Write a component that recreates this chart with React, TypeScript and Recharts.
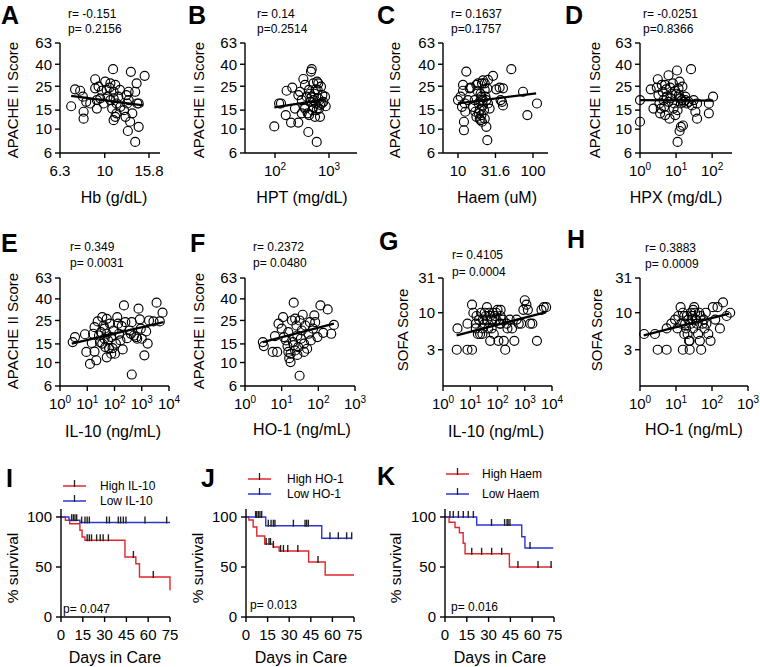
import React from 'react'
import { ScatterChart, Scatter, ComposedChart, Line, XAxis, YAxis } from 'recharts'

const FONT = '"Liberation Sans", Arial, Helvetica, sans-serif'
const RED = '#e4262b'
const BLUE = '#2b36d2'

// ---- tick values ----
const apacheTicks = [6, 10, 15, 25, 40, 63]
const sofaTicks = [3, 10, 31]
const hbTicks = [6.3, 10, 15.8]
const hptTicks = [100, 1000]
const haemTicks = [10, 31.6, 100]
const dec2 = [1, 10, 100]
const dec3 = [1, 10, 100, 1000]
const dec4 = [1, 10, 100, 1000, 10000]
const dayTicks = [0, 15, 30, 45, 60, 75]
const survTicks = [0, 50, 100]

// ---- A: Hb vs APACHE II ----
const hbPts = [
  [7.07, 16.3], [7.36, 23.4], [7.76, 22.7], [7.98, 20], [8.04, 14.5], [8.04, 12.5], [8.26, 17.9], [8.61, 17.3],
  [9.06, 29], [9.06, 23.9], [9.22, 18.6], [9.22, 15.5], [9.38, 24.8], [9.55, 19.3], [9.71, 22.7], [9.88, 17.3],
  [10.05, 27.6], [10.2, 23.1], [10.3, 20], [10.5, 24.3], [10.6, 18.6], [10.6, 26.6], [10.8, 15.5], [10.9, 36],
  [10.96, 22.2], [10.96, 19.3], [11.15, 25.7], [11.3, 17.3], [11.3, 14], [11.5, 20], [11.7, 23.1], [11.15, 13],
  [11.75, 16.1], [10.96, 12.1], [12.2, 15], [12.4, 13], [12.8, 18.6], [12.8, 22.2], [12.5, 20.7], [13.3, 14],
  [12.6, 17.3], [13.1, 34], [13.7, 22.2], [13.9, 26.6], [13.0, 11.7], [12.7, 9.6], [13.7, 7.6], [14.0, 17.3],
  [14.2, 17.3], [14.2, 10.5], [15.1, 31.2],
]
const hbFit = [[7.07, 20.3], [14.9, 16.6]]

// ---- B: HPT vs APACHE II ----
const hptPts = [
  [97, 10.6], [119, 17.3], [129, 17.3], [158, 13.5], [164, 22.7], [198, 11.5], [209, 24.3], [234, 15.5],
  [270, 11.5], [290, 22.2], [312, 18.6], [335, 29.2], [349, 16.1], [359, 25.7], [386, 20], [403, 14],
  [414, 9.4], [426, 23.1], [445, 17.9], [464, 34.2], [478, 36], [491, 15], [513, 26.6], [535, 21.3],
  [550, 13], [566, 17.3], [592, 7.6], [600, 27.6], [617, 23.1], [634, 19.3], [653, 15.5], [681, 13],
  [711, 24.8], [731, 17.3], [753, 20.7], [785, 17.9], [843, 20], [868, 16.3], [312, 14], [359, 15.5],
  [270, 20.7], [445, 21.3], [513, 18.6], [566, 23.4], [478, 20], [592, 15], [634, 26.6], [681, 16.8],
  [513, 16.1], [426, 13.5],
]
const hptFit = [[97, 15.9], [868, 18.9]]

// ---- C: Haem vs APACHE II ----
const haemPts = [
  [10, 18.6], [10.85, 20], [11.3, 16.1], [11.66, 25.7], [11.66, 22.7], [12, 11.7], [12, 9.75], [12.3, 17.3],
  [12.5, 14.5], [12.9, 34.2], [13.6, 18.6], [14.3, 23.9], [14.8, 24.3], [15.9, 16.1], [16.7, 18.6], [17, 14.5],
  [17.6, 25.7], [17.6, 13], [18.1, 22.7], [18.5, 26.6], [18.9, 17.3], [19.5, 15], [19.5, 12.5], [20, 18.6],
  [20, 21.3], [20.5, 13.5], [20.9, 26.6], [21.5, 28.3], [21.5, 18.6], [22.2, 15], [22.7, 26.6], [22.7, 23.1],
  [23.2, 20], [23.9, 10.5], [24.6, 7.9], [24.6, 23.9], [25.1, 28.6], [25.1, 17.3], [26.4, 15.5], [29.3, 31.2],
  [32.4, 23.4], [35.9, 24.3], [37, 18.6], [38.6, 17.9], [39.8, 16.6], [39.8, 23.9], [51.4, 36], [73.6, 22.2],
  [84.1, 13.5], [113, 17.3], [20.5, 20], [21.5, 16.6], [23.9, 18.6], [18.9, 14], [20, 12.1], [22.7, 12.5],
  [20.9, 11.7],
]
const haemFit = [[10, 17.3], [110, 21.5]]

// ---- D: HPX vs APACHE II ----
const hpxPts = [
  [1.0, 18.6], [1.0, 11.7], [1.98, 23.4], [2.36, 15.5], [2.92, 24.3], [3.11, 29], [3.25, 20.7], [3.46, 17.3],
  [3.61, 14], [3.77, 15.5], [4.02, 25.7], [4.29, 22.2], [4.48, 18.6], [4.67, 16.1], [4.98, 13.5], [5.31, 23.4],
  [5.54, 20], [6.17, 31.6], [6.17, 17.9], [6.58, 12.5], [6.87, 24.3], [7.65, 21.3], [8.15, 26.6], [8.5, 15.5],
  [8.88, 17.3], [9.5, 13.5], [10.1, 21.3], [10.6, 35], [11.0, 15], [11.7, 23.9], [12.5, 27.6], [13.1, 19.3],
  [13.6, 17.3], [13.6, 10.5], [12.5, 9.6], [11.0, 7.6], [14.5, 18.6], [15.5, 10.8], [16.2, 17.9], [18.0, 20],
  [22.3, 17.9], [26, 36], [27.6, 16.6], [30.8, 18.6], [34.3, 14.5], [38.2, 12.5], [38.2, 17.3], [81, 14],
  [81, 17.3], [106, 20], [5, 25.7], [7, 19.3], [9.5, 22.7], [12, 20.7], [15, 24.8], [18, 18.6], [20, 17.3],
]
const hpxFit = [[1, 18.6], [106, 18.4]]

// ---- E: IL-10 vs APACHE II ----
const il10ApPts = [
  [2.93, 15.6], [3.55, 17.4], [8.26, 18.5], [9.26, 12.6], [12.6, 9.7], [14.7, 15.3], [18.5, 12.7], [21.5, 10.5],
  [18.5, 21.6], [24.2, 24.5], [27, 18], [29.3, 15.6], [31.6, 19.4], [35.5, 26.9], [39.8, 22.4], [43, 16.8],
  [46.4, 14], [52, 25.9], [52, 18.7], [58, 16.2], [63, 13.7], [68, 23.3], [76, 17.4], [85, 13.7],
  [92, 20.1], [104, 12.1], [112, 15.1], [126, 26.9], [135, 23.3], [146, 18.7], [165, 16.2], [184, 22.1],
  [200, 13.3], [222, 34.7], [250, 24.1], [290, 17], [355, 20.1], [400, 18.7], [430, 24.1], [520, 18],
  [630, 17.4], [680, 16.8], [760, 32.3], [850, 25.6], [920, 20.9], [1000, 16.8], [1250, 11.7], [1650, 15.1],
  [1450, 19.7], [1850, 25], [430, 7.7], [3500, 36.8], [4600, 24.5], [5800, 29.6], [2700, 24.5], [43, 20.9],
  [16.4, 18.7], [35.5, 15.1], [76, 12.1], [52, 11.2],
]
const il10ApFit = [[2.7, 15.1], [6300, 24.1]]

// ---- F: HO-1 vs APACHE II ----
const ho1ApPts = [
  [3.07, 15.6], [3.25, 14.3], [5.7, 12.6], [7.55, 12.6], [6.56, 17.8], [8.2, 23.3], [10, 20.9], [10.9, 26.9],
  [11.5, 17.4], [13.2, 16.2], [14.4, 14.3], [15.2, 19.4], [16.1, 11], [17.5, 12.1], [17.5, 10.1], [19.1, 25],
  [20.2, 15.6], [21.3, 36.8], [23.3, 13], [25.3, 22.4], [26.8, 18], [28.3, 14], [30.8, 25], [33.5, 16.8],
  [35.4, 20.1], [37.5, 28.3], [40.8, 15.1], [44.2, 22.4], [49.5, 13.5], [53.9, 18.7], [58.8, 24.1], [62.3, 16.2],
  [71.5, 20.9], [77.8, 27.9], [82.1, 24.1], [30.8, 7.5], [94.5, 17.4], [114, 34.7], [136, 19.1], [180, 31.8],
  [225, 18.7], [266, 22.7], [23.3, 26], [15.2, 12.6], [40.8, 12.6], [26.8, 11.8], [21.3, 14.6],
]
const ho1ApFit = [[3.07, 15.6], [266, 23.3]]

// ---- G: IL-10 vs SOFA ----
const il10SofaPts = [
  [3.2, 3], [7.9, 3], [11.6, 3], [3.4, 6], [7.9, 7], [16, 7], [19, 5], [23, 5], [28, 5], [11.6, 13],
  [13, 10], [17, 9], [21, 8], [25, 10], [29, 8], [34, 7], [37, 9], [41, 12], [46, 6], [50, 10],
  [54, 4], [61, 8], [68, 10], [73, 5], [79, 9], [89, 8], [100, 11], [108, 4], [120, 7], [130, 9],
  [158, 8], [170, 4], [192, 3], [215, 7], [232, 6], [282, 8], [342, 6], [415, 4], [500, 8], [600, 7],
  [735, 7], [890, 11], [1000, 15], [1150, 13], [1300, 11], [1580, 7], [1900, 7], [2800, 4], [4100, 11], [5000, 12],
  [6100, 12], [34, 10], [41, 8], [28, 6], [61, 6], [89, 10], [130, 7], [16, 6], [54, 9], [130, 11],
]
const il10SofaFit = [[3.16, 4.8], [6100, 10.2]]

// ---- H: HO-1 vs SOFA ----
const ho1SofaPts = [
  [1.3, 5], [3.1, 3], [5.5, 3], [2.6, 5], [5.5, 6], [7.4, 7], [9.4, 8], [11.6, 9], [13.4, 12], [15.5, 10],
  [17, 9], [18, 7], [19, 6], [21, 5], [23, 4], [24, 4], [25.7, 10], [28, 8], [30, 6], [32, 12],
  [34, 10], [38, 7], [41, 5], [44, 10], [46, 4], [50, 3], [59, 8], [62, 6], [67, 10], [79, 5],
  [91, 4], [106, 12], [123, 8], [142, 12], [166, 6], [202, 14], [255, 9], [320, 10], [24, 3], [15.5, 3],
  [20, 9], [22, 8], [26, 7], [28, 9], [36, 8], [14, 7], [11, 6], [30, 11], [48, 9], [55, 7],
  [17, 5], [70, 7],
]
const ho1SofaFit = [[1.27, 4.8], [298, 9.7]]

// ---- I/J/K: survival (day, % survival) ----
const il10High = [[0, 100], [3, 96.7], [6, 93.3], [13, 86.7], [14.5, 80], [16.5, 76.7], [44, 60], [51.5, 53.3], [54, 40], [75, 26.7]]
const il10Low = [[0, 100], [5.5, 96.8], [13, 94.5], [75, 94.5]]
const il10HighCens = [18, 19.5, 21, 24.5, 27, 29, 32.6, 49.8, 63.5]
const il10LowCens = [7.3, 8.5, 9.6, 10.8, 14.2, 16.5, 18, 19.5, 31.4, 33.3, 39.4, 41, 42.9, 44.7, 57.8, 72.7]

const ho1High = [[0, 100], [2, 97], [5, 90], [7.5, 81], [13, 73], [19, 70], [23, 66], [43.5, 55], [55, 42], [75, 42]]
const ho1Low = [[0, 100], [13.7, 91.3], [52.6, 78.7], [73.4, 78.7]]
const ho1HighCens = [14, 16, 17, 19, 24, 26, 29, 36, 50]
const ho1LowCens = [6.7, 7.4, 8.6, 9.7, 10.9, 15.5, 17.4, 19, 20.1, 32.9, 41, 42.1, 43.3, 58.3, 64.1, 69.9, 73.4]

const haemHigh = [[0, 100], [2.8, 94.7], [6.9, 89.5], [9.9, 84.2], [12.5, 73.7], [13.8, 63.2], [44.3, 50], [73.5, 50]]
const haemLow = [[0, 100], [21.8, 92], [52.8, 80.3], [55, 69], [74.5, 69]]
const haemHighCens = [18.4, 25.2, 32.1, 39, 50.2, 64, 73]
const haemLowCens = [3.4, 5.7, 9.2, 12.6, 16, 19.5, 32, 41, 42.7, 43.4, 44.7, 58.5]

// ---- helpers ----
const toXY = (a: number[][]) => a.map(([x, y]) => ({ x, y }))
const stepAt = (curve: number[][], t: number) => {
  let v = curve[0][1]
  for (const [x, y] of curve) if (x <= t) v = y
  return v
}
const censorPts = (curve: number[][], times: number[]) => times.map(t => ({ x: t, y: stepAt(curve, t) }))

const axisStyle = {
  axisLine: { stroke: '#000', strokeWidth: 1.4 },
  tickLine: { stroke: '#000', strokeWidth: 1.4 },
  tickSize: 5,
}
const tickFont = { fontSize: 15, fill: '#000', fontFamily: FONT }

const PowTick = (p: any) => {
  const e = Math.round(Math.log10(p.payload.value))
  return (
    <text x={p.x} y={p.y} dy={10.6} textAnchor="middle" fontSize={15} fontFamily={FONT} fill="#000">
      10<tspan dy={-6} fontSize={10}>{e}</tspan>
    </text>
  )
}
const Ring = (p: any) => <circle cx={p.cx} cy={p.cy} r={4.5} fill="none" stroke="#000" strokeWidth={1.15} />
const Empty = () => <g />
const Censor = (p: any) => <line x1={p.cx} x2={p.cx} y1={p.cy - 6} y2={p.cy + 1} stroke="#222" strokeWidth={1.4} />

const YW = 44, MT = 8, MR = 14, XH = 32

function ScatterPanel({ box, xDomain, xTicks, pow, yDomain, yTicks, pts, fit }: {
  box: number[]; xDomain: number[]; xTicks: number[]; pow?: boolean; yDomain: number[]; yTicks: number[]
  pts: number[][]; fit: number[][]
}) {
  const [x0, x1, y0, y1] = box
  return (
    <div style={{ position: 'absolute', left: x0 - YW, top: y0 - MT }}>
      <ScatterChart width={YW + x1 - x0 + MR} height={MT + y1 - y0 + XH} margin={{ top: MT, right: MR, bottom: 0, left: 0 }}>
        <XAxis type="number" dataKey="x" scale="log" domain={xDomain} ticks={xTicks} height={XH} tickMargin={7}
          tick={pow ? PowTick : tickFont} interval={0} {...axisStyle} />
        <YAxis type="number" dataKey="y" scale="log" domain={yDomain} ticks={yTicks} width={YW} tickMargin={3}
          tick={tickFont} interval={0} {...axisStyle} />
        <Scatter data={toXY(pts)} shape={Ring} isAnimationActive={false} />
        <Scatter data={toXY(fit)} shape={Empty} line={{ stroke: '#000', strokeWidth: 2.3 }} isAnimationActive={false} />
      </ScatterChart>
    </div>
  )
}

function SurvivalPanel({ box, hi, lo, hiCens, loCens }: {
  box: number[]; hi: number[][]; lo: number[][]; hiCens: number[]; loCens: number[]
}) {
  const [x0, x1, y0, y1] = box
  return (
    <div style={{ position: 'absolute', left: x0 - YW, top: y0 - MT }}>
      <ComposedChart width={YW + x1 - x0 + MR} height={MT + y1 - y0 + XH} margin={{ top: MT, right: MR, bottom: 0, left: 0 }}>
        <XAxis type="number" dataKey="x" domain={[0, 75]} ticks={dayTicks} height={XH} tickMargin={7}
          tick={tickFont} interval={0} {...axisStyle} />
        <YAxis type="number" dataKey="y" domain={[0, 108]} ticks={survTicks} width={YW} tickMargin={4}
          tick={tickFont} interval={0} {...axisStyle} />
        <Line data={toXY(hi)} dataKey="y" type="stepAfter" stroke={RED} strokeWidth={1.4} dot={false} isAnimationActive={false} />
        <Line data={toXY(lo)} dataKey="y" type="stepAfter" stroke={BLUE} strokeWidth={1.4} dot={false} isAnimationActive={false} />
        <Scatter data={censorPts(hi, hiCens)} dataKey="y" shape={Censor} isAnimationActive={false} />
        <Scatter data={censorPts(lo, loCens)} dataKey="y" shape={Censor} isAnimationActive={false} />
      </ComposedChart>
    </div>
  )
}

const T = (p: { x: number; y: number; s?: number; a?: 'start' | 'middle' | 'end'; b?: boolean; rot?: boolean; children: React.ReactNode }) =>
  p.rot ? (
    <text transform={`translate(${p.x},${p.y}) rotate(-90)`} dy="0.36em" textAnchor="middle" fontSize={p.s ?? 15} fontFamily={FONT} fill="#000">{p.children}</text>
  ) : (
    <text x={p.x} y={p.y} textAnchor={p.a ?? 'start'} fontSize={p.s ?? 12} fontWeight={p.b ? 700 : 400} fontFamily={FONT} fill="#000">{p.children}</text>
  )

const LegendRow = ({ x, y, color, label, tx }: { x: number; y: number; color: string; label: string; tx: number }) => (
  <g>
    <line x1={x} x2={x + 23} y1={y} y2={y} stroke={color} strokeWidth={1.5} />
    <line x1={x + 11.5} x2={x + 11.5} y1={y - 6} y2={y + 1} stroke="#222" strokeWidth={1.3} />
    <T x={tx} y={y + 4}>{label}</T>
  </g>
)

export default function App() {
  return (
    <div style={{ position: 'absolute', left: 0, top: 0, width: 760, height: 667, background: '#fff', overflow: 'hidden' }}>
      <ScatterPanel box={[60, 160, 43, 153]} xDomain={[6.3, 17.7]} xTicks={hbTicks} yDomain={[6, 63]} yTicks={apacheTicks} pts={hbPts} fit={hbFit} />
      <ScatterPanel box={[245, 357, 43, 153]} xDomain={[27.8, 3300]} xTicks={hptTicks} pow yDomain={[6, 63]} yTicks={apacheTicks} pts={hptPts} fit={hptFit} />
      <ScatterPanel box={[443, 548, 43, 153]} xDomain={[6.31, 158.5]} xTicks={haemTicks} yDomain={[6, 63]} yTicks={apacheTicks} pts={haemPts} fit={haemFit} />
      <ScatterPanel box={[640, 732, 43, 153]} xDomain={[1, 355]} xTicks={dec2} pow yDomain={[6, 63]} yTicks={apacheTicks} pts={hpxPts} fit={hpxFit} />

      <ScatterPanel box={[60, 169, 278, 386]} xDomain={[1, 10000]} xTicks={dec4} pow yDomain={[6, 63]} yTicks={apacheTicks} pts={il10ApPts} fit={il10ApFit} />
      <ScatterPanel box={[245, 355, 278, 386]} xDomain={[1, 1000]} xTicks={dec3} pow yDomain={[6, 63]} yTicks={apacheTicks} pts={ho1ApPts} fit={ho1ApFit} />
      <ScatterPanel box={[443, 552, 278, 386]} xDomain={[1, 10000]} xTicks={dec4} pow yDomain={[0.92, 31]} yTicks={sofaTicks} pts={il10SofaPts} fit={il10SofaFit} />
      <ScatterPanel box={[640, 748, 278, 386]} xDomain={[1, 1000]} xTicks={dec3} pow yDomain={[0.92, 31]} yTicks={sofaTicks} pts={ho1SofaPts} fit={ho1SofaFit} />

      <SurvivalPanel box={[61, 170, 509, 617]} hi={il10High} lo={il10Low} hiCens={il10HighCens} loCens={il10LowCens} />
      <SurvivalPanel box={[246, 354, 509, 617]} hi={ho1High} lo={ho1Low} hiCens={ho1HighCens} loCens={ho1LowCens} />
      <SurvivalPanel box={[445, 554, 509, 617]} hi={haemHigh} lo={haemLow} hiCens={haemHighCens} loCens={haemLowCens} />

      <svg width={760} height={667} style={{ position: 'absolute', left: 0, top: 0, pointerEvents: 'none' }}>
        {/* panel letters */}
        <T x={1} y={24} s={25} b>A</T>
        <T x={188} y={24} s={25} b>B</T>
        <T x={377} y={24} s={25} b>C</T>
        <T x={565} y={24} s={25} b>D</T>
        <T x={1} y={252} s={25} b>E</T>
        <T x={190} y={252} s={25} b>F</T>
        <T x={379} y={250} s={25} b>G</T>
        <T x={567} y={248} s={25} b>H</T>
        <T x={6} y={487} s={25} b>I</T>
        <T x={201} y={487} s={25} b>J</T>
        <T x={377} y={485} s={25} b>K</T>

        {/* r / p */}
        <T x={68} y={18}>r= -0.151</T><T x={68} y={33}>p= 0.2156</T>
        <T x={257} y={18}>r= 0.14</T><T x={257} y={33}>p=0.2514</T>
        <T x={451} y={18}>r= 0.1637</T><T x={451} y={33}>p=0.1757</T>
        <T x={643} y={18}>r= -0.0251</T><T x={643} y={33}>p=0.8366</T>
        <T x={70} y={251}>r= 0.349</T><T x={70} y={267}>p= 0.0031</T>
        <T x={253} y={251}>r= 0.2372</T><T x={253} y={267}>p= 0.0480</T>
        <T x={452} y={259}>r= 0.4105</T><T x={452} y={276}>p= 0.0004</T>
        <T x={645} y={252}>r= 0.3883</T><T x={645} y={268}>p= 0.0009</T>

        {/* y titles */}
        <T x={13} y={100} rot s={15}>APACHE II Score</T>
        <T x={199} y={100} rot s={15}>APACHE II Score</T>
        <T x={395} y={100} rot s={15}>APACHE II Score</T>
        <T x={595} y={100} rot s={15}>APACHE II Score</T>
        <T x={13} y={331} rot s={15}>APACHE II Score</T>
        <T x={199} y={331} rot s={15}>APACHE II Score</T>
        <T x={403} y={330} rot s={15}>SOFA Score</T>
        <T x={597} y={330} rot s={15}>SOFA Score</T>
        <T x={12} y={568} rot s={15.5}>% survival</T>
        <T x={197} y={568} rot s={15.5}>% survival</T>
        <T x={395} y={568} rot s={15.5}>% survival</T>

        {/* x titles */}
        <T x={114} y={203} a="middle" s={16}>Hb (g/dL)</T>
        <T x={302} y={203} a="middle" s={16}>HPT (mg/dL)</T>
        <T x={497} y={203} a="middle" s={16}>Haem (uM)</T>
        <T x={676} y={203} a="middle" s={16}>HPX (mg/dL)</T>
        <T x={113} y={437} a="middle" s={16}>IL-10 (ng/mL)</T>
        <T x={302} y={435} a="middle" s={16}>HO-1 (ng/mL)</T>
        <T x={496} y={437} a="middle" s={16}>IL-10 (ng/mL)</T>
        <T x={694} y={435} a="middle" s={16}>HO-1 (ng/mL)</T>
        <T x={115} y={663} a="middle" s={16}>Days in Care</T>
        <T x={301} y={663} a="middle" s={16}>Days in Care</T>
        <T x={500} y={663} a="middle" s={16}>Days in Care</T>

        {/* survival p-values */}
        <T x={63} y={613}>p= 0.047</T>
        <T x={250} y={609}>p= 0.013</T>
        <T x={451} y={611}>p= 0.016</T>

        {/* legends */}
        <LegendRow x={63} y={486} color={RED} label="High IL-10" tx={100} />
        <LegendRow x={63} y={501} color={BLUE} label="Low IL-10" tx={100} />
        <LegendRow x={248} y={479} color={RED} label="High HO-1" tx={287} />
        <LegendRow x={248} y={494} color={BLUE} label="Low HO-1" tx={287} />
        <LegendRow x={446} y={474} color={RED} label="High Haem" tx={482} />
        <LegendRow x={446} y={494} color={BLUE} label="Low Haem" tx={482} />
      </svg>
    </div>
  )
}
